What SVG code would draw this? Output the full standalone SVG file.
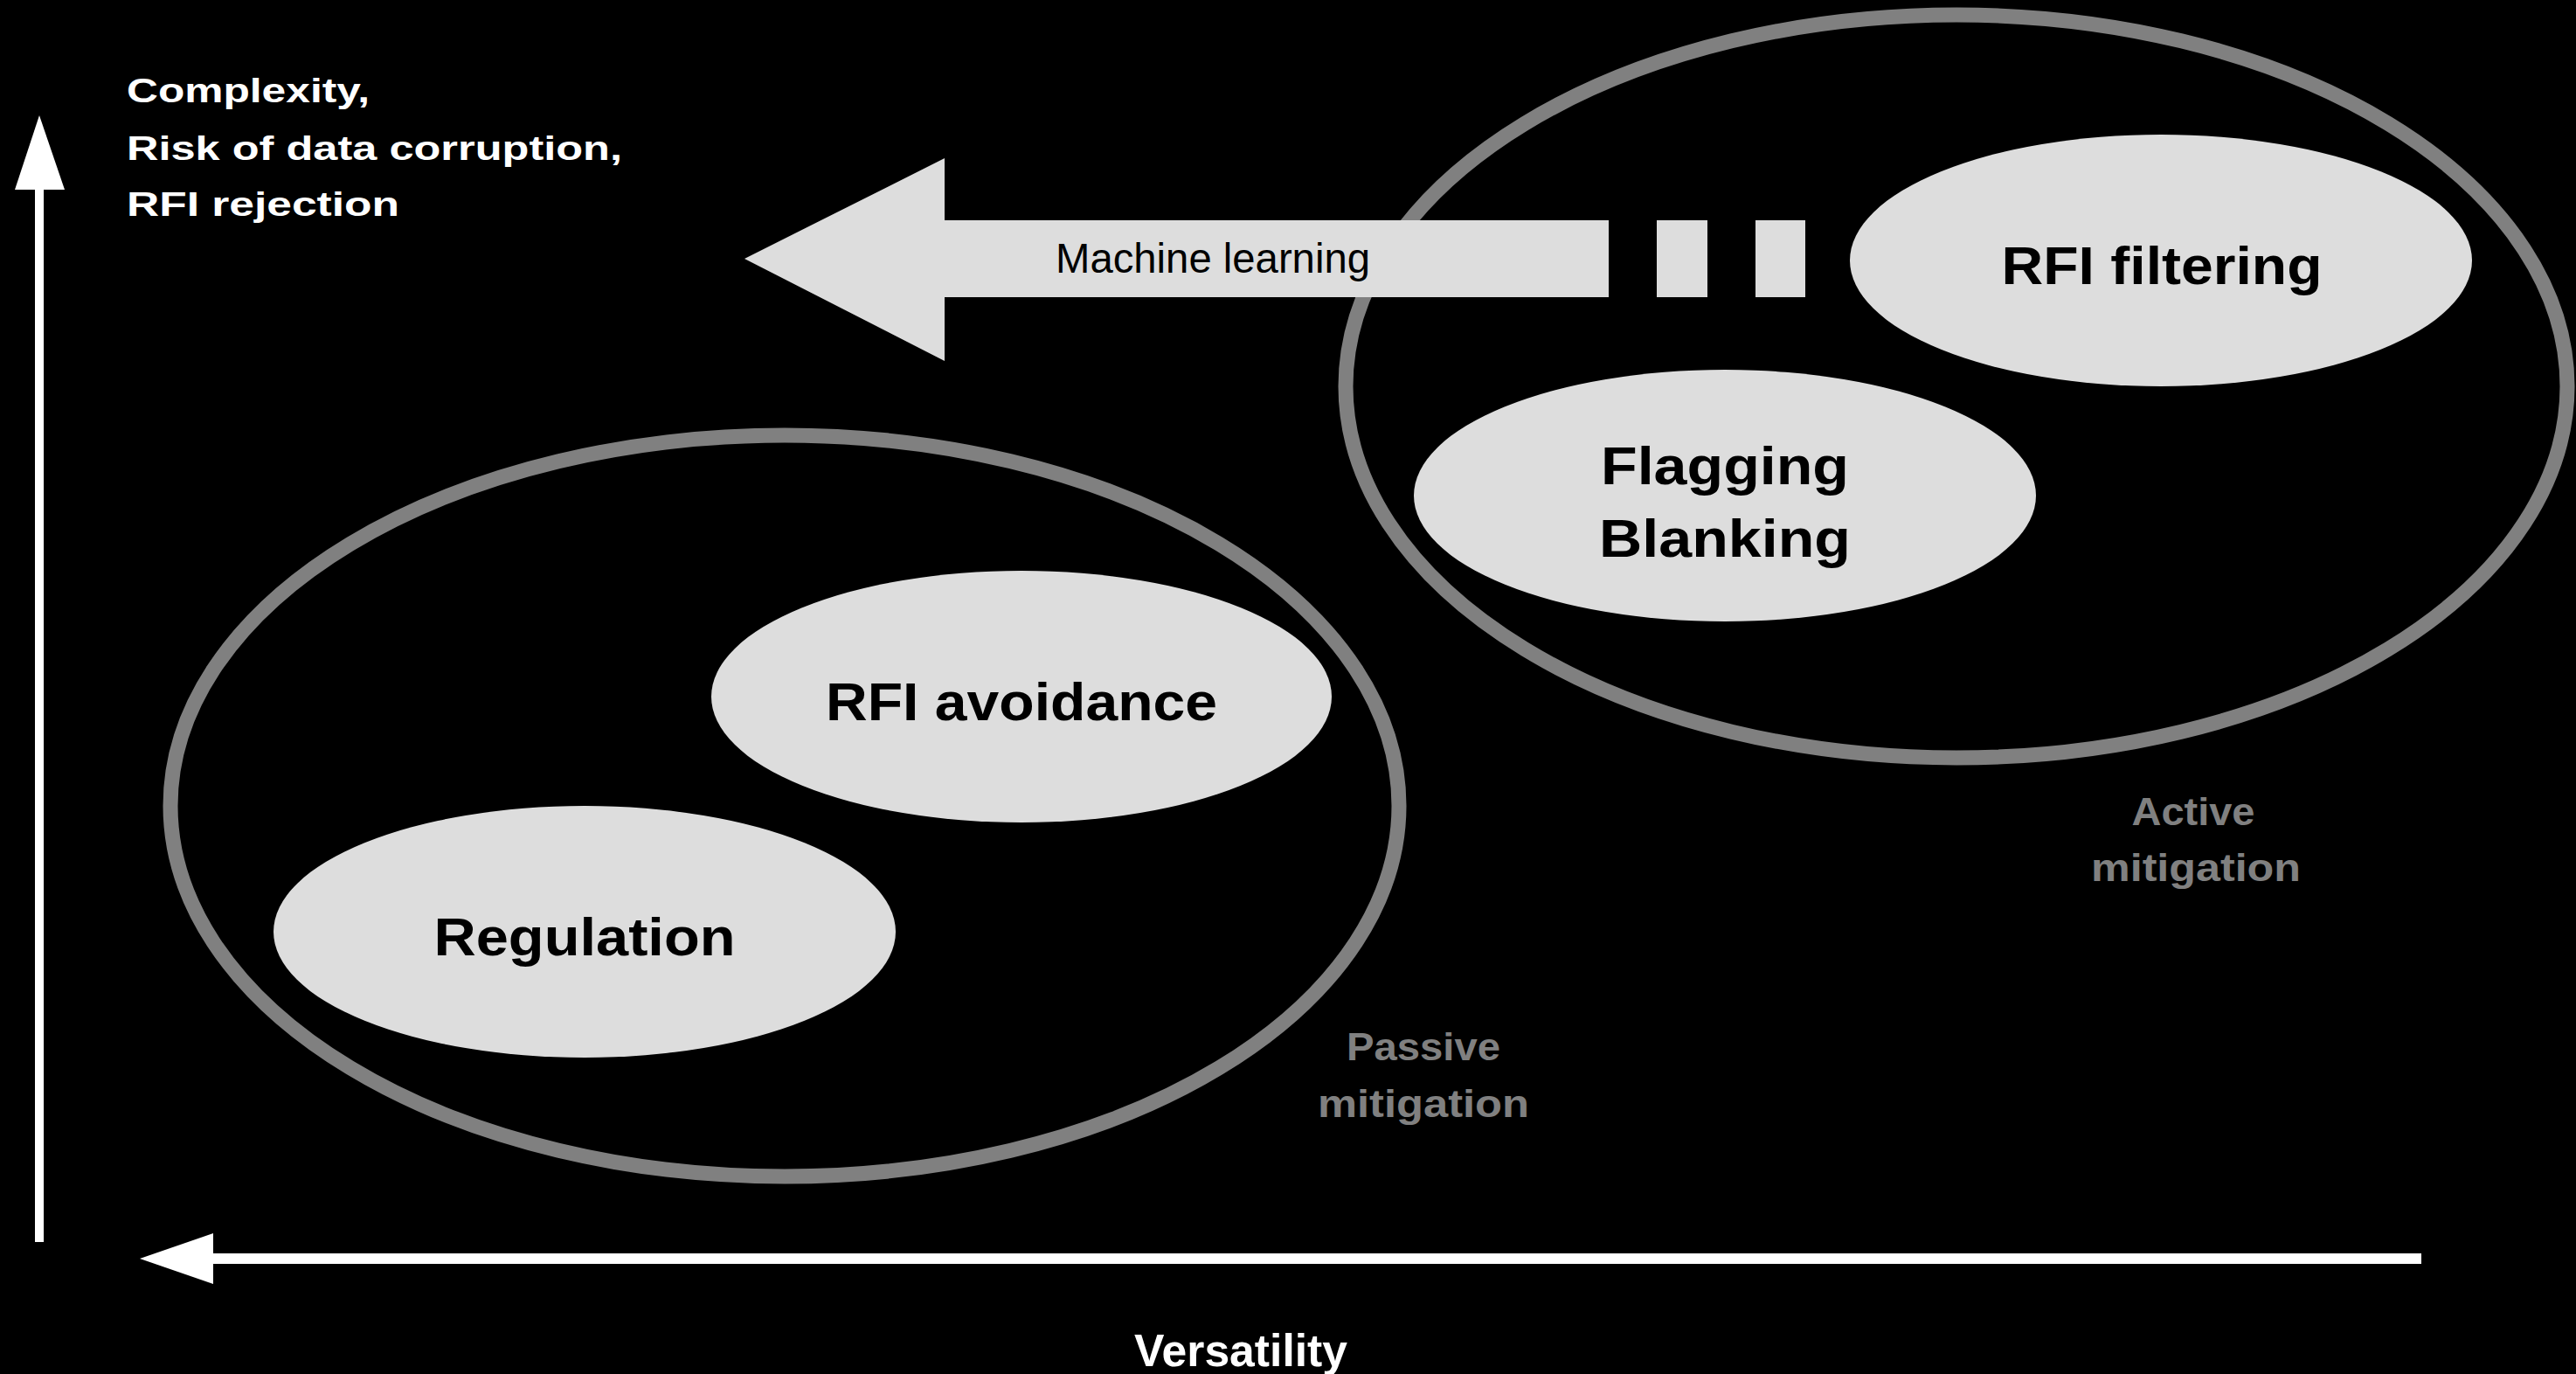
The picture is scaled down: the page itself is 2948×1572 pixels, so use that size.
<svg xmlns="http://www.w3.org/2000/svg" width="2948" height="1572" viewBox="0 0 2948 1572">
<style>
.bg{fill:#000000}
.group{fill:none;stroke:#808080;stroke-width:17}
.node{fill:#dddddd}
.nlabel{font-family:"Liberation Sans",Arial,sans-serif;font-weight:bold;font-size:62px;fill:#000000;text-anchor:middle}
.glabel{font-family:"Liberation Sans",Arial,sans-serif;font-weight:bold;font-size:45px;fill:#808080;text-anchor:middle}
.alabel{font-family:"Liberation Sans",Arial,sans-serif;font-weight:bold;font-size:39px;fill:#ffffff}
.xlabel{font-family:"Liberation Sans",Arial,sans-serif;font-weight:bold;font-size:52px;fill:#ffffff;text-anchor:middle}
.mlabel{font-family:"Liberation Sans",Arial,sans-serif;font-size:48px;fill:#000000}
.axis{fill:#ffffff}
</style>
<rect class="bg" x="0" y="0" width="2948" height="1572"/>

<g id="passive-group">
  <ellipse class="group" cx="898" cy="922" rx="703" ry="424"/>
  <text class="glabel" x="1629" y="1213" textLength="176" lengthAdjust="spacingAndGlyphs">Passive</text>
  <text class="glabel" x="1629" y="1278" textLength="242" lengthAdjust="spacingAndGlyphs">mitigation</text>
</g>

<g id="active-group">
  <ellipse class="group" cx="2239" cy="442" rx="699" ry="425"/>
  <text class="glabel" x="2510" y="944" textLength="141" lengthAdjust="spacingAndGlyphs">Active</text>
  <text class="glabel" x="2513" y="1008" textLength="240" lengthAdjust="spacingAndGlyphs">mitigation</text>
</g>

<g id="node-rfi-avoidance">
  <ellipse class="node" cx="1169" cy="797" rx="355" ry="144"/>
  <text class="nlabel" x="1169" y="824" textLength="448" lengthAdjust="spacingAndGlyphs">RFI avoidance</text>
</g>

<g id="node-regulation">
  <ellipse class="node" cx="669" cy="1066" rx="356" ry="144"/>
  <text class="nlabel" x="669" y="1093" textLength="345" lengthAdjust="spacingAndGlyphs">Regulation</text>
</g>

<g id="node-flagging-blanking">
  <ellipse class="node" cx="1974" cy="567" rx="356" ry="144"/>
  <text class="nlabel" x="1974" y="554" textLength="284" lengthAdjust="spacingAndGlyphs">Flagging</text>
  <text class="nlabel" x="1974" y="637" textLength="288" lengthAdjust="spacingAndGlyphs">Blanking</text>
</g>

<g id="node-rfi-filtering">
  <ellipse class="node" cx="2473" cy="298" rx="356" ry="144"/>
  <text class="nlabel" x="2474" y="325" textLength="367" lengthAdjust="spacingAndGlyphs">RFI filtering</text>
</g>

<g id="machine-learning">
  <polygon class="node" points="852,296 1081,181 1081,252 1841,252 1841,340 1081,340 1081,413"/>
  <rect class="node" x="1896" y="252" width="58" height="88"/>
  <rect class="node" x="2009" y="252" width="57" height="88"/>
  <text class="mlabel" x="1208" y="312" textLength="360" lengthAdjust="spacingAndGlyphs">Machine learning</text>
</g>

<g id="connectors">
  <g id="y-axis">
    <rect class="axis" x="40" y="214" width="10" height="1207"/>
    <polygon class="axis" points="45,132 74,217 17,217"/>
  </g>
  <g id="x-axis">
    <rect class="axis" x="242" y="1434" width="2529" height="12"/>
    <polygon class="axis" points="160,1440 244,1411 244,1469"/>
  </g>
</g>

<g id="y-axis-label">
  <text class="alabel" x="145" y="117" textLength="278" lengthAdjust="spacingAndGlyphs">Complexity,</text>
  <text class="alabel" x="145" y="183" textLength="567" lengthAdjust="spacingAndGlyphs">Risk of data corruption,</text>
  <text class="alabel" x="145" y="247" textLength="312" lengthAdjust="spacingAndGlyphs">RFI rejection</text>
</g>

<g id="x-axis-label">
  <text class="xlabel" x="1420" y="1563" textLength="244" lengthAdjust="spacingAndGlyphs">Versatility</text>
</g>
</svg>
